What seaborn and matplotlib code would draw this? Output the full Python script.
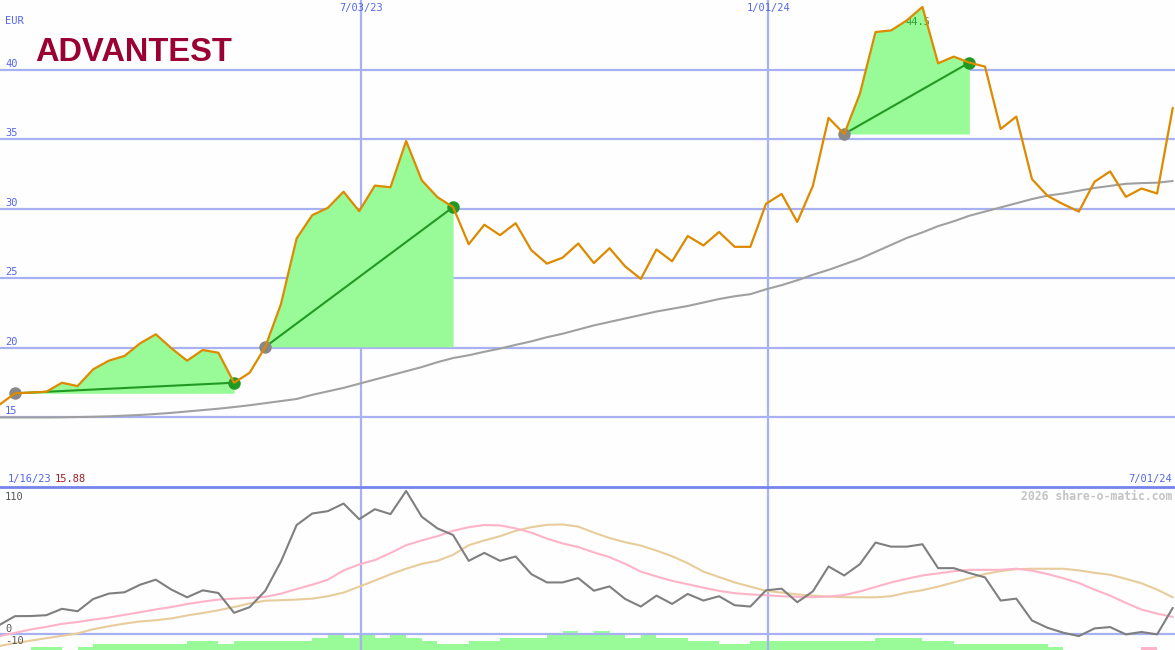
import numpy as np
import pandas as pd
import matplotlib
matplotlib.use("Agg")
import matplotlib.pyplot as plt
import seaborn as sns

# ---------------- data ----------------
weeks = pd.date_range("2023-01-22", periods=76, freq="7D")

price = [15.88, 16.71, 16.76, 16.82, 17.47, 17.23, 18.44, 19.06, 19.40, 20.31,
         20.96, 19.95, 19.06, 19.83, 19.63, 17.47, 18.19, 20.06, 23.14, 27.86,
         29.54, 30.07, 31.23, 29.83, 31.67, 31.55, 34.88, 32.05, 30.84, 30.12,
         27.45, 28.85, 28.10, 28.96, 27.02, 26.05, 26.48, 27.50, 26.09, 27.16,
         25.85, 24.95, 27.07, 26.22, 28.04, 27.36, 28.33, 27.26, 27.26, 30.36,
         31.07, 29.05, 31.66, 36.55, 35.39, 38.28, 42.73, 42.85, 43.57, 44.54,
         40.48, 40.96, 40.53, 40.24, 35.75, 36.64, 32.14, 30.93, 30.33, 29.80,
         31.95, 32.69, 30.86, 31.46, 31.10, 37.27]

ma_long = [14.97, 14.97, 14.97, 14.97, 14.98, 15.00, 15.02, 15.05, 15.10, 15.15,
           15.22, 15.30, 15.40, 15.50, 15.60, 15.72, 15.85, 16.00, 16.15, 16.30,
           16.60, 16.85, 17.10, 17.40, 17.70, 18.00, 18.30, 18.60, 18.95, 19.25,
           19.45, 19.70, 19.93, 20.20, 20.45, 20.75, 21.00, 21.30, 21.60, 21.85,
           22.10, 22.35, 22.60, 22.80, 23.00, 23.25, 23.50, 23.70, 23.85, 24.20,
           24.50, 24.85, 25.25, 25.60, 26.00, 26.40, 26.90, 27.40, 27.90, 28.30,
           28.75, 29.10, 29.50, 29.80, 30.10, 30.40, 30.70, 30.95, 31.10, 31.30,
           31.50, 31.65, 31.80, 31.85, 31.88, 32.00]

osc = [7.5, 14.9, 15.0, 15.7, 21.0, 19.0, 29.2, 33.7, 34.8, 41.1,
       45.3, 37.0, 30.6, 36.4, 34.2, 17.7, 22.4, 36.1, 60.4, 90.8,
       100.4, 102.4, 108.7, 95.7, 104.0, 99.9, 119.2, 97.7, 88.0, 82.5,
       61.0, 67.6, 61.0, 64.6, 49.9, 43.0, 43.0, 46.6, 36.1, 39.7,
       29.2, 22.9, 32.0, 25.1, 33.4, 27.9, 31.5, 24.0, 22.9, 36.4,
       37.8, 26.5, 35.6, 56.3, 48.8, 58.2, 76.2, 72.8, 72.8, 74.8,
       54.9, 54.9, 50.8, 47.2, 27.9, 29.5, 11.3, 5.2, 1.1, -1.7,
       4.7, 5.8, -0.3, 1.7, -0.3, 21.8]

osc_fast = [-1.7, 1.0, 3.8, 6.0, 8.5, 10.0, 12.0, 13.7, 16.0, 18.2,
            20.5, 22.5, 25.0, 27.0, 28.7, 29.5, 30.2, 31.0, 33.6, 37.5,
            41.1, 45.3, 53.0, 58.0, 61.6, 67.5, 74.0, 78.0, 81.5, 86.0,
            89.0, 90.8, 90.5, 88.0, 84.5, 79.5, 75.5, 72.5, 68.0, 64.0,
            58.5, 52.0, 48.0, 44.3, 41.5, 38.6, 36.0, 34.0, 33.0, 32.3,
            31.5, 31.0, 30.7, 31.2, 32.5, 35.5, 39.2, 43.0, 46.0, 48.8,
            50.5, 52.3, 53.5, 53.5, 53.5, 54.4, 52.8, 50.0, 46.5, 42.5,
            37.0, 32.0, 26.0, 20.4, 17.0, 14.3]

osc_slow = [-9.9, -7.5, -5.5, -3.5, -1.5, 0.5, 4.0, 6.5, 8.7, 10.5,
            11.5, 13.0, 15.5, 17.5, 19.8, 22.5, 25.5, 27.8, 28.2, 28.7,
            29.5, 31.5, 34.5, 39.5, 44.5, 49.8, 54.4, 58.5, 61.0, 66.0,
            74.0, 78.0, 81.5, 86.0, 89.0, 91.0, 91.3, 89.5, 84.5, 80.0,
            76.5, 73.7, 69.5, 64.8, 59.0, 52.0, 47.5, 43.0, 39.5, 36.0,
            34.5, 33.0, 32.0, 31.2, 30.7, 30.6, 30.6, 31.5, 34.5, 36.5,
            39.5, 43.0, 46.5, 50.0, 52.5, 54.0, 54.4, 54.4, 54.4, 53.0,
            51.0, 49.4, 46.0, 42.3, 37.0, 30.6]

volume = [0, 0, 1, 1, 0, 1, 2, 2, 2, 2,
          2, 2, 3, 3, 2, 3, 3, 3, 3, 3,
          4, 5, 4, 5, 4, 5, 4, 3, 2, 2,
          3, 3, 4, 4, 4, 5, 6.3, 5, 6.3, 5,
          4, 5, 4, 4, 3, 3, 2, 2, 3, 3,
          3, 3, 3, 3, 3, 3, 4, 4, 4, 3,
          3, 2, 2, 2, 2, 2, 2, 1, 0, 0,
          0, 0, 0, 0, 0, 0]
volume_down = [0] * 73 + [1, 0, 0]

buy_idx = [1, 17, 54]
sell_idx = [15, 29, 62]

price_ticks = [15, 20, 25, 30, 35, 40]
osc_ticks = [110, 0, -10]
date_marks = ["2023-07-03", "2024-01-01"]
date_mark_labels = ["7/03/23", "1/01/24"]
first_label, first_price = "1/16/23", "15.88"
last_label = "7/01/24"
peak_label = "44.5"
currency = "EUR"
logo = "ADVANTEST"
watermark = "2026 share-o-matic.com"

# ---------------- style ----------------
BG = "#fdfefd"
GRID = "#a8b2f2"
SEP = "#7484ec"
BLUE_TXT = "#5566ee"
ORANGE = "#dd8a00"
MA_GRAY = "#a0a0a0"
FILL = "#98fb98"
GREEN = "#229922"
DOT_GRAY = "#888888"
PINK = "#ffb3c8"
TAN = "#e8cc9c"
OSC_GRAY = "#7f7f7f"
MONO = "DejaVu Sans Mono"

sns.set_style("white")
plt.rcParams["font.family"] = ["DejaVu Sans"]

fig = plt.figure(figsize=(11.75, 6.5), dpi=100, facecolor=BG)
ax = fig.add_axes([0, 163 / 650, 1, 487 / 650])
ax2 = fig.add_axes([0, 0, 1, 163 / 650])
axv = ax2.twinx()

x0 = pd.Timestamp("2023-01-22 07:00")
x1 = pd.Timestamp(last_label.split("/")[0].join(["2024-0", "-01"]))

for a in (ax, ax2, axv):
    a.set_facecolor(BG)
    for s in a.spines.values():
        s.set_visible(False)
    a.set_xticks([])
    a.set_yticks([])
    a.set_xlim(x0, x1)
    a.set_xlabel("")
    a.set_ylabel("")

ax.set_ylim(9.96, 45.04)
ax2.set_ylim(-13.3, 122.5)
axv.set_ylim(0, 54)

# ---------------- main panel ----------------
for t in price_ticks:
    ax.axhline(t, color=GRID, lw=1.6, zorder=1)
    ax.annotate(str(t), xy=(0, t), xycoords=("axes fraction", "data"),
                xytext=(5, 6), textcoords="offset pixels", ha="left", va="center",
                fontsize=7.5, family=MONO, color=BLUE_TXT)
ax.annotate(currency, xy=(0, 1), xycoords="axes fraction", xytext=(5, -21),
            textcoords="offset pixels", ha="left", va="center",
            fontsize=7.5, family=MONO, color=BLUE_TXT)

for d, lab in zip(date_marks, date_mark_labels):
    ax.axvline(pd.Timestamp(d), color=GRID, lw=1.6, zorder=1)
    ax2.axvline(pd.Timestamp(d), color=GRID, lw=1.6, zorder=1)
    ax.annotate(lab, xy=(pd.Timestamp(d), 1), xycoords=("data", "axes fraction"),
                xytext=(0, -8), textcoords="offset pixels", ha="center", va="center",
                fontsize=7.5, family=MONO, color=BLUE_TXT)

sns.lineplot(x=weeks, y=ma_long, ax=ax, color=MA_GRAY, lw=1.5, zorder=2, legend=False)

for b, s in zip(buy_idx, sell_idx):
    xs = weeks[b:s + 1]
    ys = np.array(price[b:s + 1])
    base = price[b]
    ax.fill_between(xs, ys, base, where=ys >= base, interpolate=True,
                    color=FILL, lw=0, zorder=3)
    ax.plot([weeks[b], weeks[s]], [price[b], price[s]], color=GREEN, lw=1.5, zorder=5)
    ax.plot([weeks[b]], [price[b]], "o", color=DOT_GRAY, ms=9, mec="none", zorder=6)
    ax.plot([weeks[s]], [price[s]], "o", color=GREEN, ms=9, mec="none", zorder=6)

peak_i = int(np.argmax(price))
ax.annotate(peak_label, xy=(weeks[peak_i], price[peak_i]), xytext=(-4, -15),
            textcoords="offset pixels", ha="center", va="center",
            fontsize=7.5, family=MONO, color="#33a033", zorder=4)

sns.lineplot(x=weeks, y=price, ax=ax, color=ORANGE, lw=1.6, zorder=7, legend=False)

fig.text(35 / 1175, 1 - 61 / 650, logo, fontsize=23.5, fontweight="bold",
         family="Liberation Sans", color="#9b0033", ha="left", va="baseline")

# ---------------- lower panel ----------------
axv.bar(weeks, volume, width=7, align="edge", color=FILL, lw=0, zorder=1)
axv.bar(weeks, volume_down, width=7, align="edge", color=PINK, lw=0, zorder=1)
ax2.set_zorder(axv.get_zorder() + 1)
ax2.patch.set_visible(False)

ax2.axhline(0, color=GRID, lw=1.6, zorder=1)
ax2.spines["top"].set_visible(True)
ax2.spines["top"].set_color(SEP)
ax2.spines["top"].set_linewidth(2)

sns.lineplot(x=weeks, y=osc_slow, ax=ax2, color=TAN, lw=1.5, zorder=3, legend=False)
sns.lineplot(x=weeks, y=osc_fast, ax=ax2, color=PINK, lw=1.5, zorder=4, legend=False)
sns.lineplot(x=weeks, y=osc, ax=ax2, color=OSC_GRAY, lw=1.5, zorder=5, legend=False)
ax2.set_xlim(x0, x1)
ax2.set_xlabel("")
ax2.set_ylabel("")

for t in osc_ticks:
    ax2.annotate(str(t), xy=(0, t), xycoords=("axes fraction", "data"),
                 xytext=(5, 5), textcoords="offset pixels", ha="left", va="center",
                 fontsize=7.5, family=MONO, color="#555555")

ax2.annotate(watermark, xy=(1, 1), xycoords="axes fraction", xytext=(-3, -9),
             textcoords="offset pixels", ha="right", va="center",
             fontsize=8.3, family=MONO, fontweight="bold", color="#c4c4c4")

# date labels above separator
ax.annotate(first_label, xy=(0, 0), xycoords="axes fraction", xytext=(8, 8),
            textcoords="offset pixels", ha="left", va="center",
            fontsize=7.5, family=MONO, color=BLUE_TXT)
ax.annotate(first_price, xy=(0, 0), xycoords="axes fraction", xytext=(55, 8),
            textcoords="offset pixels", ha="left", va="center",
            fontsize=7.5, family=MONO, color="#a01e28")
ax.annotate(last_label, xy=(1, 0), xycoords="axes fraction", xytext=(-3, 8),
            textcoords="offset pixels", ha="right", va="center",
            fontsize=7.5, family=MONO, color=BLUE_TXT)

ax.set_xlim(x0, x1)
ax.set_xlabel("")
ax.set_ylabel("")

fig.savefig("out.png", dpi=100, facecolor=BG)
